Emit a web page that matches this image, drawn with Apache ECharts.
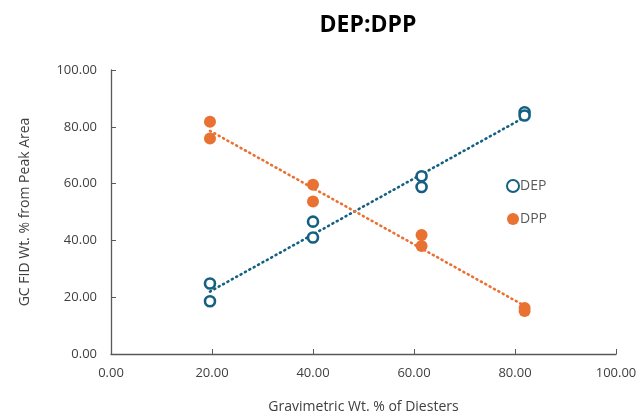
<!DOCTYPE html>
<html><head><meta charset="utf-8">
<script src="https://cdn.jsdelivr.net/npm/echarts@6/dist/echarts.min.js"></script>
<style>html,body{margin:0;padding:0;background:#fff}#c{width:642px;height:419px}</style>
</head><body><div id="c"></div>
<script>
const title = 'DEP:DPP';
const xName = 'Gravimetric Wt. % of Diesters';
const yName = 'GC FID Wt. % from Peak Area';
const depX = [19.6, 19.6, 40.0, 40.0, 61.5, 61.5, 81.9, 81.9];
const depY = [24.8, 18.6, 46.6, 41.0, 62.6, 58.8, 85.1, 84.0];
const dppX = [19.6, 19.6, 40.0, 40.0, 61.5, 61.5, 81.9, 81.9];
const dppY = [81.8, 75.9, 59.6, 53.7, 41.9, 38.0, 16.2, 15.1];

function pairs(xs, ys){ return xs.map((x,i)=>[x, ys[i]]); }
function trend(xs, ys){
  const n = xs.length;
  const mx = xs.reduce((a,b)=>a+b,0)/n, my = ys.reduce((a,b)=>a+b,0)/n;
  let sxy=0, sxx=0;
  for(let i=0;i<n;i++){ sxy+=(xs[i]-mx)*(ys[i]-my); sxx+=(xs[i]-mx)**2; }
  const b = sxy/sxx, a = my - b*mx;
  const x0 = Math.min(...xs), x1 = Math.max(...xs);
  return [[x0, a+b*x0],[x1, a+b*x1]];
}
const blue = '#156082', orange = '#E97132', grey = '#404040';
const font = "'Open Sans', 'Liberation Sans', sans-serif";
const chart = echarts.init(document.getElementById('c'));
chart.setOption({
  animation:false,
  title:{text:title, left:363, top:9, textAlign:'center',
    textStyle:{fontFamily:font, fontWeight:'bold', fontSize:23, color:'#000'}},
  grid:{left:111, right:26, top:70, bottom:63},
  legend:{orient:'vertical', left:501, top:174, itemGap:19, itemWidth:12, itemHeight:12,
    data:['DEP','DPP'], textStyle:{fontFamily:font, fontSize:14, color:'#595959', padding:[0,0,0,-4]}},
  xAxis:{type:'value', min:0, max:100, interval:20, name:xName, nameLocation:'middle', nameGap:46,
    nameTextStyle:{fontFamily:font, fontSize:14, color:grey},
    axisLine:{lineStyle:{color:'#595959', width:1.3}}, axisTick:{inside:true, length:5, lineStyle:{color:'#595959'}},
    axisLabel:{formatter:v=>v.toFixed(2), fontFamily:font, fontSize:13, color:grey, margin:13},
    splitLine:{show:false}},
  yAxis:{type:'value', min:0, max:100, interval:20, name:yName, nameLocation:'middle', nameGap:79,
    nameTextStyle:{fontFamily:font, fontSize:14, color:grey},
    axisLine:{show:true, lineStyle:{color:'#595959', width:1.3}}, axisTick:{show:true, inside:true, length:5, lineStyle:{color:'#595959'}},
    axisLabel:{formatter:v=>v.toFixed(2), fontFamily:font, fontSize:13, color:grey, margin:14},
    splitLine:{show:false}},
  series:[
    {name:'DEP', type:'scatter', data:pairs(depX, depY), symbol:'circle', symbolSize:10, z:5,
      itemStyle:{color:'#fff', borderColor:blue, borderWidth:2.6, opacity:1}},
    {name:'DPP', type:'scatter', data:pairs(dppX, dppY), symbol:'circle', symbolSize:12, z:5,
      itemStyle:{color:orange, opacity:1}},
    {name:'DEP trend', type:'line', data:trend(depX, depY), symbol:'none', z:3,
      lineStyle:{color:blue, width:2.6, type:[1,4], cap:'round'}},
    {name:'DPP trend', type:'line', data:trend(dppX, dppY), symbol:'none', z:3,
      lineStyle:{color:orange, width:2.6, type:[1,4], cap:'round'}}
  ]
});
</script></body></html>
